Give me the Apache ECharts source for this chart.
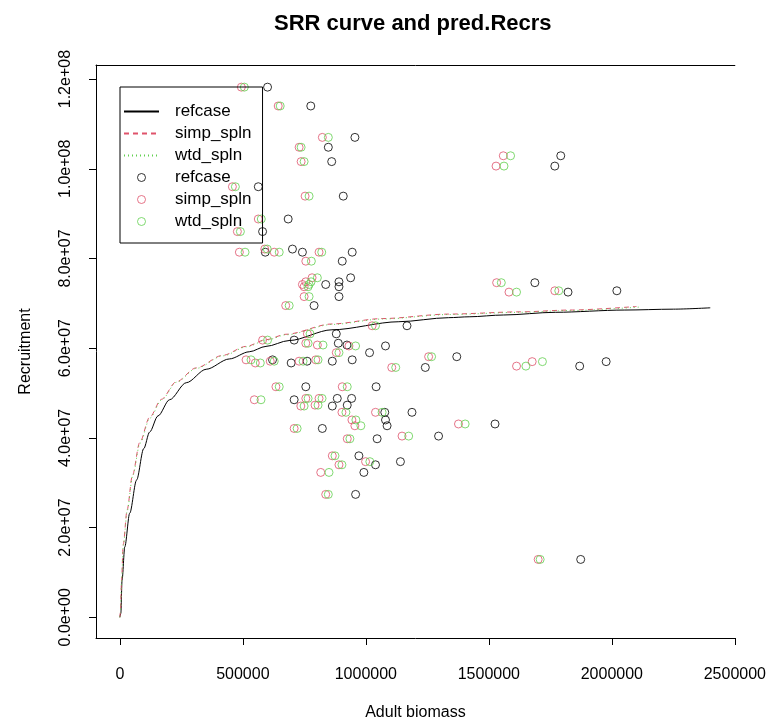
<!DOCTYPE html>
<html><head><meta charset="utf-8">
<script src="https://cdn.jsdelivr.net/npm/echarts@6/dist/echarts.min.js"></script>
<style>html,body{margin:0;padding:0;background:#fff}#c{width:769px;height:728px}</style>
</head><body><div id="c"></div>
<script>
const FONT = '"Liberation Sans", Arial, sans-serif';
const seriesNames = ['refcase', 'simp_spln', 'wtd_spln'];
const seriesColors = ['#000000', '#DF536B', '#61D04F'];

// observed recruitment (shared y of the three point sets)
const recruitment = [
  1.182e8, 1.140e8, 1.070e8, 1.048e8, 1.016e8, 0.960e8, 0.939e8, 0.888e8, 0.860e8, 0.814e8,
  0.821e8, 0.814e8, 0.814e8, 0.794e8, 0.757e8, 0.748e8, 0.742e8, 0.737e8, 0.715e8, 0.695e8,
  0.650e8, 0.618e8, 0.632e8, 0.611e8, 0.607e8, 0.590e8, 0.605e8, 0.557e8, 0.581e8, 0.574e8,
  0.567e8, 0.571e8, 0.571e8, 0.574e8, 0.514e8, 0.514e8, 0.485e8, 0.488e8, 0.488e8, 0.471e8,
  0.473e8, 0.457e8, 0.457e8, 0.440e8, 0.427e8, 0.421e8, 0.404e8, 0.398e8, 0.431e8, 0.347e8,
  0.360e8, 0.340e8, 0.323e8, 0.274e8, 0.129e8, 0.746e8, 0.725e8, 0.728e8, 1.029e8, 1.006e8,
  0.560e8, 0.570e8
];
// adult biomass for each point set
const biomassRefcase = [
  600400, 776100, 955500, 847400, 861100, 562800, 908100, 684200, 580200, 591100,
  701600, 742100, 944500, 904000, 938100, 890700, 836800, 890700, 890700, 789500,
  1167200, 708500, 879800, 887900, 923100, 1015000, 1079800, 1241700, 1369600, 620600,
  696400, 761100, 863600, 944500, 755900, 1041700, 708500, 883800, 942100, 863600,
  924300, 1187500, 1076900, 1079800, 1086300, 823100, 1295600, 1045800, 1525100, 1140500,
  971700, 1039200, 991900, 958300, 1873300, 1687000, 1821900, 2020300, 1792300, 1768100,
  1869200, 1976800
];
const biomassSimp = [
  493900, 643700, 823100, 728700, 736800, 457500, 753000, 562800, 477700, 485800,
  589100, 627500, 809700, 755900, 781400, 755900, 742100, 749000, 749000, 674100,
  1025500, 580200, 762300, 755900, 802800, 879800, 931200, 1105300, 1255100, 513000,
  550600, 611300, 728700, 796400, 634400, 904000, 546600, 755900, 809700, 735600,
  793500, 1039200, 902800, 943300, 955300, 708500, 1147000, 924300, 1376500, 998800,
  863600, 890700, 816600, 836800, 1700400, 1531600, 1581800, 1768100, 1558700, 1529200,
  1612500, 1676100
];
const biomassWtd = [
  506000, 651800, 847400, 736800, 749000, 469600, 769200, 574900, 489900, 508900,
  599200, 647800, 820600, 778500, 802800, 777300, 769200, 765200, 769200, 688300,
  1039200, 600400, 773300, 765200, 825900, 890700, 958300, 1121500, 1267200, 533200,
  570900, 627500, 744900, 805700, 647800, 924300, 573700, 765200, 821900, 749000,
  805700, 1066000, 919000, 959500, 979800, 720600, 1174100, 935200, 1403600, 1016200,
  874500, 902800, 850200, 847400, 1708500, 1550600, 1612500, 1784200, 1588300, 1561500,
  1650600, 1717800
];

// fitted SRR curves
const curveRefBiomass = [0, 4000, 9000, 20000, 40000, 68000, 97000, 121000, 155000, 202000, 270000, 351000, 445000, 526000, 594000, 688000, 862000, 1134000, 1336000, 1420000, 1560000, 1770000, 2050000, 2250000, 2400000];
const curveRefRecruit = [0, 0.9e6, 8.3e6, 15.7e6, 23.2e6, 30.6e6, 37.6e6, 41.3e6, 44.9e6, 48.5e6, 52.3e6, 55.3e6, 57.6e6, 59.2e6, 60.4e6, 61.7e6, 64.1e6, 65.9e6, 66.8e6, 67.0e6, 67.4e6, 68.0e6, 68.5e6, 68.7e6, 69.0e6];
const curveSimpBiomass = [0, 2000, 7000, 13500, 29700, 51000, 81000, 121000, 169000, 229000, 310000, 418000, 513000, 594000, 675000, 862000, 1066000, 1336000, 1630000, 1830000, 2100000];
const curveSimpRecruit = [0, 1.0e6, 8.3e6, 16.2e6, 24.0e6, 31.6e6, 39.0e6, 44.6e6, 48.6e6, 52.5e6, 55.6e6, 58.4e6, 60.4e6, 61.9e6, 63.1e6, 65.4e6, 66.6e6, 67.6e6, 68.1e6, 68.5e6, 69.3e6];
const curveWtdBiomass = [0, 2000, 7000, 14000, 30000, 52000, 82000, 122000, 170000, 230000, 311000, 420000, 515000, 596000, 677000, 864000, 1068000, 1338000, 1632000, 1832000, 2120000];
const curveWtdRecruit = [0, 1.0e6, 8.0e6, 16.0e6, 23.8e6, 31.5e6, 38.8e6, 44.4e6, 48.5e6, 52.4e6, 55.5e6, 58.3e6, 60.3e6, 61.8e6, 63.0e6, 65.3e6, 66.5e6, 67.5e6, 68.0e6, 68.4e6, 69.2e6];

const xTickValues = [0, 500000, 1000000, 1500000, 2000000, 2500000];
const xTickLabels = ['0', '500000', '1000000', '1500000', '2000000', '2500000'];
const yTickValues = [0, 2e7, 4e7, 6e7, 8e7, 1e8, 1.2e8];
const yTickLabels = ['0.0e+00', '2.0e+07', '4.0e+07', '6.0e+07', '8.0e+07', '1.0e+08', '1.2e+08'];

const PTS = ' (points)';
const zip = (xs, ys) => xs.map((x, i) => [x, ys[i]]);
const curves = [
  zip(curveRefBiomass, curveRefRecruit),
  zip(curveSimpBiomass, curveSimpRecruit),
  zip(curveWtdBiomass, curveWtdRecruit)
];
const points = [biomassRefcase, biomassSimp, biomassWtd].map(b => zip(b, recruitment));
const lineTypes = ['solid', [5, 4], [1, 3]];

const series = [];
seriesNames.forEach((n, i) => series.push({
  name: n, type: 'line', data: curves[i], symbol: 'none', showSymbol: false,
  smooth: 0.3, smoothMonotone: 'x',
  lineStyle: { color: seriesColors[i], width: 1, type: lineTypes[i] },
  itemStyle: { color: seriesColors[i] }, z: 2
}));
seriesNames.forEach((n, i) => series.push({
  name: n + PTS, type: 'scatter', data: points[i], symbol: 'circle', symbolSize: 8,
  itemStyle: { color: 'rgba(0,0,0,0)', borderColor: seriesColors[i], borderWidth: 1 }, z: 3
}));

const xRange = { min: -97000, max: 2500000 };
const yRange = { min: -4620000, max: 123140000 };

const chart = echarts.init(document.getElementById('c'), null, { renderer: 'canvas' });
chart.setOption({
  animation: false,
  backgroundColor: '#ffffff',
  textStyle: { fontFamily: FONT },
  title: {
    text: 'SRR curve and pred.Recrs', left: 274, top: 13, padding: 0,
    textStyle: { fontFamily: FONT, fontSize: 22, fontWeight: 'bold', color: '#000' }
  },
  grid: { left: 96, right: 31, top: 65, bottom: 90, containLabel: false },
  legend: {
    orient: 'vertical', left: 120, top: 87,
    padding: [16, 11, 13, 3], itemGap: 5, itemWidth: 35, itemHeight: 8,
    borderColor: '#000', borderWidth: 1, backgroundColor: 'transparent',
    selectedMode: false,
    itemStyle: { borderWidth: 1 },
    formatter: name => name.replace(PTS, ''),
    textStyle: { fontFamily: FONT, fontSize: 17, color: '#000', padding: [0, 0, 0, 11] },
    data: seriesNames.map(n => ({ name: n, itemStyle: { opacity: 0 } }))
      .concat(seriesNames.map(n => ({ name: n + PTS, icon: 'circle' })))
  },
  xAxis: [{
    type: 'value', position: 'bottom', min: xRange.min, max: xRange.max,
    name: 'Adult biomass', nameLocation: 'middle', nameGap: 67,
    nameTextStyle: { fontFamily: FONT, fontSize: 16, color: '#000' },
    axisLine: { show: true, onZero: false, lineStyle: { color: '#000', width: 1 } },
    axisTick: { show: true, length: 7, customValues: xTickValues, lineStyle: { color: '#000' } },
    axisLabel: {
      show: true, customValues: xTickValues, margin: 29, fontSize: 16, color: '#000', fontFamily: FONT,
      formatter: v => { const k = xTickValues.indexOf(v); return k >= 0 ? xTickLabels[k] : ''; }
    },
    splitLine: { show: false }
  }, {
    type: 'value', position: 'top', min: xRange.min, max: xRange.max,
    axisLine: { show: true, onZero: false, lineStyle: { color: '#000', width: 1 } },
    axisTick: { show: false }, axisLabel: { show: false }, splitLine: { show: false }
  }],
  yAxis: {
    type: 'value', min: yRange.min, max: yRange.max,
    name: 'Recruitment', nameLocation: 'middle', nameGap: 62,
    nameTextStyle: { fontFamily: FONT, fontSize: 16, color: '#000' },
    axisLine: { show: true, onZero: false, lineStyle: { color: '#000', width: 1 } },
    axisTick: { show: true, length: 7, customValues: yTickValues, lineStyle: { color: '#000' } },
    axisLabel: {
      show: true, customValues: yTickValues, rotate: 90, margin: 22, fontSize: 16, color: '#000', fontFamily: FONT,
      formatter: v => { const k = yTickValues.indexOf(v); return k >= 0 ? yTickLabels[k] : ''; }
    },
    splitLine: { show: false }
  },
  series: series
});
</script></body></html>
